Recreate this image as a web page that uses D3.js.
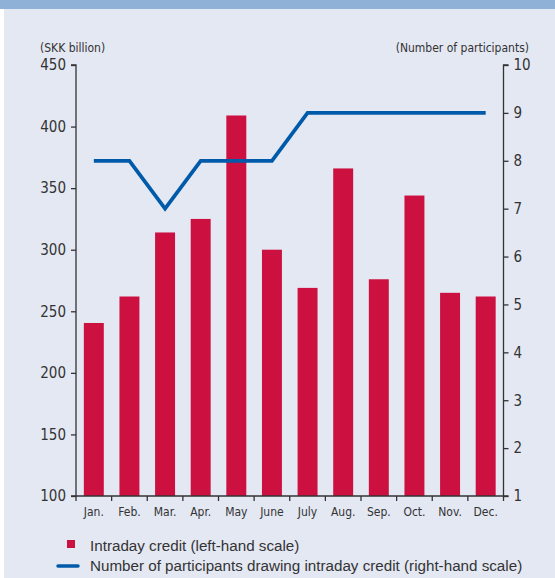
<!DOCTYPE html>
<html>
<head>
<meta charset="utf-8">
<script src="https://cdn.jsdelivr.net/npm/d3@7"></script>
<style>
  html, body { margin: 0; padding: 0; background: #ffffff; }
  svg { display: block; }
  .narrow { font-family: "Liberation Sans Narrow", "DejaVu Sans Condensed", "Arial Narrow", sans-serif; }
  .legend { font-family: "Liberation Sans", Arial, sans-serif; }
</style>
</head>
<body>
<svg id="chart" width="555" height="578"></svg>
<script>
// Monthly intraday credit (SKK billion) and number of participants drawing it
const months = ["Jan.", "Feb.", "Mar.", "Apr.", "May", "June", "July", "Aug.", "Sep.", "Oct.", "Nov.", "Dec."];
const credit = [240.5, 262, 314, 325, 409, 300, 269, 366, 276, 344, 265, 262];
const participants = [8, 8, 7, 8, 8, 8, 9, 9, 9, 9, 9, 9];
const leftTicks = [100, 150, 200, 250, 300, 350, 400, 450];
const rightTicks = [1, 2, 3, 4, 5, 6, 7, 8, 9, 10];

const W = 555, H = 578;
const svg = d3.select("#chart");
const ink = "#333333";

// Panel background with a blue header strip
svg.append("rect").attr("x", 0).attr("y", 0).attr("width", W).attr("height", H).attr("fill", "#ffffff");
svg.append("rect").attr("x", 4).attr("y", 0).attr("width", W - 4).attr("height", H).attr("fill", "#e4e8f3");
svg.append("rect").attr("x", 0).attr("y", 0).attr("width", W).attr("height", 9).attr("fill", "#8fb0d7");

const plot = { left: 76, right: 503.5, top: 65, bottom: 496 };

const x = d3.scaleBand().domain(months).range([plot.left, plot.right]).paddingInner(0.44).paddingOuter(0.22);
const xTicks = d3.scaleBand().domain(months).range([plot.left, plot.right]);
const yL = d3.scaleLinear().domain([100, 450]).range([plot.bottom, plot.top]);
const yR = d3.scaleLinear().domain([1, 10]).range([plot.bottom, plot.top]);

// Bars
svg.append("g").selectAll("rect").data(months).join("rect")
  .attr("x", d => x(d))
  .attr("width", x.bandwidth())
  .attr("y", (d, i) => yL(credit[i]))
  .attr("height", (d, i) => yL(100) - yL(credit[i]))
  .attr("fill", "#cc1040");

// Participants line
const line = d3.line()
  .x((d, i) => xTicks(months[i]) + xTicks.bandwidth() / 2)
  .y(d => yR(d));
svg.append("path").datum(participants)
  .attr("d", line)
  .attr("fill", "none")
  .attr("stroke", "#005aaa")
  .attr("stroke-width", 3.7)
  .attr("stroke-linejoin", "miter");

// Left axis
const gL = svg.append("g").attr("transform", `translate(${plot.left},0)`)
  .call(d3.axisLeft(yL).tickValues(leftTicks).tickSize(5).tickPadding(5).tickFormat(d3.format("d")));
// Right axis
const gR = svg.append("g").attr("transform", `translate(${plot.right},0)`)
  .call(d3.axisRight(yR).tickValues(rightTicks).tickSize(5).tickPadding(5).tickFormat(d3.format("d")));
[gL, gR].forEach(g => {
  g.select(".domain").attr("stroke", ink).attr("stroke-width", 1.3);
  g.selectAll(".tick line").attr("stroke", ink).attr("stroke-width", 1.3);
  g.selectAll(".tick text").attr("class", "narrow").attr("font-size", 15).attr("fill", ink);
});
gL.select(".domain").attr("d", `M-5,${plot.top}H0V${plot.bottom}H-5`);
gR.select(".domain").attr("d", `M5,${plot.top}H0V${plot.bottom}H5`);

// Bottom axis: boundary ticks between months, labels centred in each month
const gB = svg.append("g").attr("transform", `translate(0,${plot.bottom})`);
gB.append("line").attr("x1", plot.left).attr("x2", plot.right).attr("y1", 0).attr("y2", 0)
  .attr("stroke", ink).attr("stroke-width", 1.3);
const boundaries = months.map(m => xTicks(m)).concat([plot.right]);
gB.selectAll("line.tk").data(boundaries).join("line").attr("class", "tk")
  .attr("x1", d => d).attr("x2", d => d).attr("y1", 0).attr("y2", 5)
  .attr("stroke", ink).attr("stroke-width", 1.3);
gB.selectAll("text").data(months).join("text")
  .attr("class", "narrow")
  .attr("x", d => xTicks(d) + xTicks.bandwidth() / 2)
  .attr("y", 20)
  .attr("text-anchor", "middle")
  .attr("font-size", 12)
  .attr("fill", ink)
  .text(d => d);

// Axis titles
svg.append("text").attr("class", "narrow").attr("x", 40).attr("y", 52)
  .attr("font-size", 12).attr("fill", ink).text("(SKK billion)");
svg.append("text").attr("class", "narrow").attr("x", 529).attr("y", 52)
  .attr("text-anchor", "end").attr("font-size", 12).attr("fill", ink).text("(Number of participants)");

// Legend
const lg = svg.append("g");
lg.append("rect").attr("x", 67).attr("y", 540).attr("width", 8).attr("height", 8).attr("fill", "#cc1040");
lg.append("text").attr("class", "legend").attr("x", 90).attr("y", 551)
  .attr("font-size", 15.2).attr("fill", ink).text("Intraday credit (left-hand scale)");
lg.append("line").attr("x1", 58).attr("x2", 78).attr("y1", 566).attr("y2", 566)
  .attr("stroke", "#005aaa").attr("stroke-width", 3.5).attr("stroke-linecap", "round");
lg.append("text").attr("class", "legend").attr("x", 90).attr("y", 571)
  .attr("font-size", 15.2).attr("fill", ink).text("Number of participants drawing intraday credit (right-hand scale)");
</script>
</body>
</html>
